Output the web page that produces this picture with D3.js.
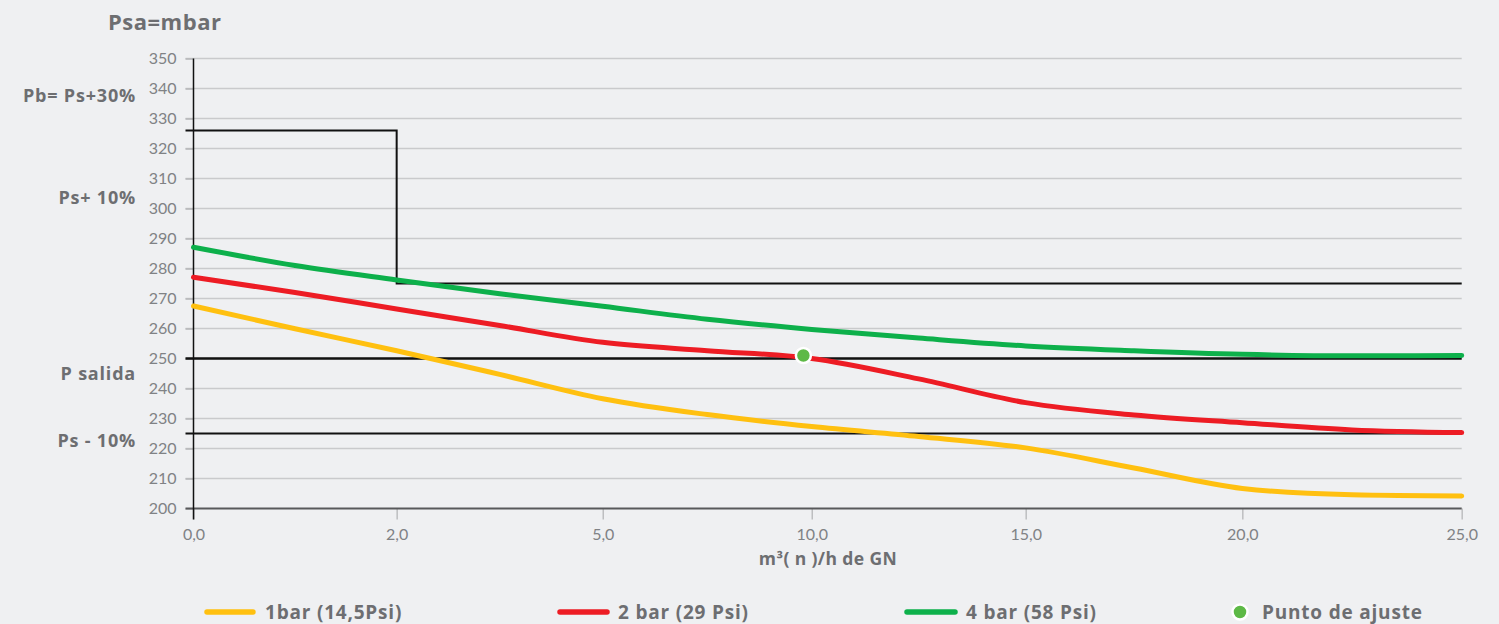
<!DOCTYPE html>
<html>
<head>
<meta charset="utf-8">
<script src="https://cdn.jsdelivr.net/npm/d3@7"></script>
<style>
  html, body { margin: 0; padding: 0; background: #eff0f2; }
  svg { display: block; font-family: Lato, "Open Sans", sans-serif; }
  .bold { font-family: "Open Sans", Lato, sans-serif; font-weight: 700; }
</style>
</head>
<body>
<svg id="chart" width="1499" height="624"></svg>
<script>
// ---------- data ----------
const xTicks = [0, 2, 5, 10, 15, 20, 25];
const yTicks = [200, 210, 220, 230, 240, 250, 260, 270, 280, 290, 300, 310, 320, 330, 340, 350];
const xSamples = [0, 1, 2, 3.5, 5, 7.5, 10, 12.5, 15, 17.5, 20, 22.5, 25];
const bar1 = [267.5, 259.9, 252.6, 244.7, 236.6, 231.3, 227.3, 224.0, 220.2, 213.5, 206.7, 204.6, 204.2];
const bar2 = [277.1, 272.0, 266.5, 261.0, 255.4, 252.6, 250.0, 243.2, 235.3, 231.2, 228.6, 226.2, 225.3];
const bar4 = [287.1, 281.0, 276.2, 271.6, 267.4, 263.1, 259.7, 256.8, 254.2, 252.6, 251.4, 250.9, 251.0];
const seriesNames = ["1bar (14,5Psi)", "2 bar (29 Psi)", "4 bar (58 Psi)"];
const setPoint = { x: 9.8, y: 251 };
const setPointName = "Punto de ajuste";
const limitPath = [[0, 326], [2, 326], [2, 275], [25, 275]];
const hLines = [250, 225];
const sideLabels = ["Pb= Ps+30%", "Ps+ 10%", "P salida", "Ps - 10%"];
const sideLabelValues = [337.5, 303.5, 245, 222.6];
const yTitle = "Psa=mbar";
const xTitle = "m³( n )/h de GN";

// ---------- layout ----------
const svg = d3.select("#chart");
const mLeft = 193.5, mRight = 1461.7, mTop = 58.5, mBottom = 508.5;
const W = mRight - mLeft;
const xFrac = [0, 0.1602, 0.3227, 0.4875, 0.6562, 0.8270, 1];
const x = d3.scaleLinear().domain(xTicks).range(xFrac.map(f => mLeft + f * W));
const y = d3.scaleLinear().domain([200, 350]).range([mBottom, mTop]);
const colors = ["#ffc010", "#ed1c24", "#0db04b"];
const textGray = "#6d6e71";
const tickGray = "#808285";

// gridlines
svg.append("g").selectAll("line").data(yTicks.filter(v => v > 200)).join("line")
  .attr("x1", mLeft - 8).attr("x2", mRight)
  .attr("y1", d => y(d)).attr("y2", d => y(d))
  .attr("stroke", "#c9cacc").attr("stroke-width", 1.5);

// y axis (ticks + labels)
const yAxis = svg.append("g").attr("transform", `translate(${mLeft},0)`)
  .call(d3.axisLeft(y).tickValues(yTicks).tickSize(8).tickPadding(9));
yAxis.select(".domain").remove();
yAxis.selectAll(".tick line").attr("stroke", "#b5b6b8").attr("stroke-width", 1.5);
yAxis.selectAll(".tick text").attr("fill", tickGray).attr("font-size", 16).attr("font-family", "Lato");

// x axis
const xAxis = svg.append("g").attr("transform", `translate(0,${mBottom})`)
  .call(d3.axisBottom(x).tickValues(xTicks).tickSize(11).tickPadding(9)
    .tickFormat(d => d.toFixed(1).replace(".", ",")));
xAxis.select(".domain").remove();
xAxis.selectAll(".tick line").attr("stroke", "#bdbec0").attr("stroke-width", 1.5);
xAxis.selectAll(".tick text").attr("fill", tickGray).attr("font-size", 16).attr("font-family", "Lato");

// bottom axis line
svg.append("line").attr("x1", mLeft - 8).attr("x2", mRight)
  .attr("y1", mBottom).attr("y2", mBottom)
  .attr("stroke", "#58595b").attr("stroke-width", 2);
// y axis line
svg.append("line").attr("x1", mLeft).attr("x2", mLeft)
  .attr("y1", y(350)).attr("y2", mBottom + 11)
  .attr("stroke", "#111").attr("stroke-width", 1.5);

// reference lines
svg.append("path")
  .attr("d", d3.line().x((d, i) => i === 0 ? x(d[0]) - 8 : x(d[0])).y(d => y(d[1]))(limitPath))
  .attr("fill", "none").attr("stroke", "#111").attr("stroke-width", 2);
svg.append("g").selectAll("line").data(hLines).join("line")
  .attr("x1", mLeft - 8).attr("x2", mRight)
  .attr("y1", d => y(d)).attr("y2", d => y(d))
  .attr("stroke", "#111").attr("stroke-width", (d, i) => i === 0 ? 2.5 : 2);

// series
const line = d3.line().x(d => x(d[0])).y(d => y(d[1])).curve(d3.curveMonotoneX);
[bar1, bar2, bar4].forEach((vals, i) => {
  svg.append("path")
    .attr("d", line(xSamples.map((xv, j) => [xv, vals[j]])))
    .attr("fill", "none").attr("stroke", colors[i]).attr("stroke-width", 5)
    .attr("stroke-linecap", "round").attr("stroke-linejoin", "round");
});

// set point
svg.append("circle").attr("cx", x(setPoint.x)).attr("cy", y(setPoint.y)).attr("r", 7.5)
  .attr("fill", "#5db946").attr("stroke", "#fff").attr("stroke-width", 2.5);

// side labels
svg.append("g").selectAll("text").data(sideLabels).join("text")
  .attr("class", "bold")
  .attr("x", 136).attr("y", (d, i) => y(sideLabelValues[i]))
  .attr("dy", "0.36em").attr("text-anchor", "end")
  .attr("font-size", 18).attr("letter-spacing", 0.8).attr("fill", textGray)
  .text(d => d);

// titles
svg.append("text").attr("class", "bold").attr("x", 108).attr("y", 30).attr("font-size", 22)
  .attr("letter-spacing", 0.5).attr("fill", textGray).text(yTitle);
svg.append("text").attr("class", "bold").attr("x", 828).attr("y", 565).attr("text-anchor", "middle")
  .attr("font-size", 17.5).attr("letter-spacing", 0.4).attr("fill", textGray).text(xTitle);

// legend
const legY = 612;
const legLines = [[207, 253], [560, 607], [907, 955]];
const legText = [265, 618, 966];
seriesNames.forEach((n, i) => {
  svg.append("line").attr("x1", legLines[i][0]).attr("x2", legLines[i][1])
    .attr("y1", legY).attr("y2", legY).attr("stroke", colors[i]).attr("stroke-width", 5.5)
    .attr("stroke-linecap", "round");
  svg.append("text").attr("class", "bold").attr("x", legText[i]).attr("y", legY).attr("dy", "0.36em")
    .attr("font-size", 19).attr("letter-spacing", 0.8).attr("fill", textGray).text(n);
});
svg.append("circle").attr("cx", 1240).attr("cy", legY).attr("r", 7.5)
  .attr("fill", "#5db946").attr("stroke", "#fff").attr("stroke-width", 2.5);
svg.append("text").attr("class", "bold").attr("x", 1262).attr("y", legY).attr("dy", "0.36em")
  .attr("font-size", 19).attr("letter-spacing", 0.8).attr("fill", textGray).text(setPointName);
</script>
</body>
</html>
